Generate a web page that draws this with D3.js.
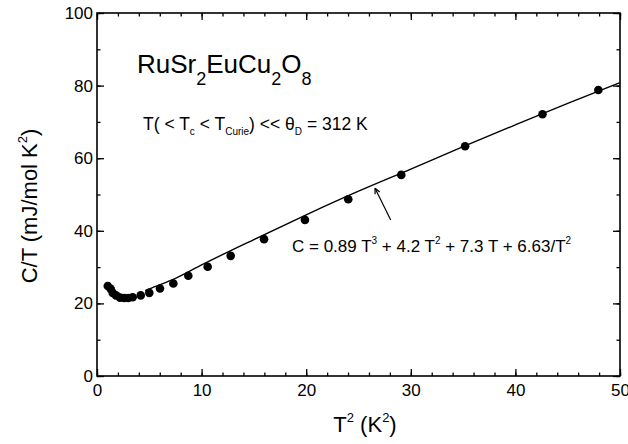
<!DOCTYPE html>
<html lang="en">
<meta charset="utf-8">
<style>
    html, body { margin: 0; padding: 0; background: #fff; }
    svg text { font-family: "Liberation Sans", Arial, sans-serif; fill: #000; }
</style>
<body>
<svg id="svg" width="628" height="444"></svg>
<script src="https://cdn.jsdelivr.net/npm/d3@7"></script>
<script>
    // measured points, x = T^2 (K^2), y = C/T (mJ/mol K^2)
    var t2 = [1.03, 1.31, 1.50, 1.82, 2.2, 2.61, 3.0, 3.41, 4.18, 5.0, 6.02, 7.3, 8.73, 10.58, 12.78, 15.97, 19.88, 24.02, 29.09, 35.19, 42.59, 47.93];
    var ct = [24.8, 24.0, 22.9, 22.2, 21.6, 21.5, 21.5, 21.7, 22.2, 22.9, 24.1, 25.5, 27.6, 30.1, 33.1, 37.7, 43.0, 48.7, 55.4, 63.3, 72.1, 78.8];

    // fitted curve
    var fitX = [4.6, 5, 7.5, 10, 15, 20, 25, 30, 35, 40, 45, 50];
    var fitY = [23.5, 24.0, 26.9, 30.6, 37.6, 44.4, 50.9, 57.0, 63.2, 69.2, 75.1, 80.8];

    var xTicks = [0, 10, 20, 30, 40, 50];
    var yTicks = [0, 20, 40, 60, 80, 100];

    var svg = d3.select("svg"),
        margin = {top: 13, right: 8, bottom: 68, left: 97},
        width = +svg.attr("width") - margin.left - margin.right,
        height = +svg.attr("height") - margin.top - margin.bottom,
        g = svg.append("g").attr("transform", "translate(" + margin.left + "," + margin.top + ")");

    var x = d3.scaleLinear().domain([0, 50]).range([0, width]);
    var y = d3.scaleLinear().domain([0, 100]).range([height, 0]);

    function styleAxis(a) {
        a.select(".domain").remove();
        a.selectAll(".tick line").attr("stroke", "#000").attr("stroke-width", 1.3);
        a.selectAll(".tick text").attr("font-size", 17).attr("font-family", "Liberation Sans, Arial, sans-serif");
    }

    // minor ticks
    var xMinor = d3.range(0, 51, 2), yMinor = d3.range(0, 101, 10);

    g.append("g").attr("transform", "translate(0," + height + ")")
        .call(d3.axisBottom(x).tickValues(xMinor).tickSize(-3.5).tickFormat(""))
        .call(styleAxis);
    g.append("g")
        .call(d3.axisTop(x).tickValues(xMinor).tickSize(-3.5).tickFormat(""))
        .call(styleAxis);
    g.append("g")
        .call(d3.axisLeft(y).tickValues(yMinor).tickSize(-3.5).tickFormat(""))
        .call(styleAxis);
    g.append("g").attr("transform", "translate(" + width + ",0)")
        .call(d3.axisRight(y).tickValues(yMinor).tickSize(-3.5).tickFormat(""))
        .call(styleAxis);

    // major ticks with labels
    g.append("g").attr("transform", "translate(0," + height + ")")
        .call(d3.axisBottom(x).tickValues(xTicks).tickSize(-7).tickPadding(8).tickFormat(d3.format("d")))
        .call(styleAxis);
    g.append("g")
        .call(d3.axisTop(x).tickValues(xTicks).tickSize(-7).tickFormat(""))
        .call(styleAxis);
    g.append("g")
        .call(d3.axisLeft(y).tickValues(yTicks).tickSize(-7).tickPadding(4).tickFormat(d3.format("d")))
        .call(styleAxis);
    g.append("g").attr("transform", "translate(" + width + ",0)")
        .call(d3.axisRight(y).tickValues(yTicks).tickSize(-7).tickFormat(""))
        .call(styleAxis);

    g.append("rect")
        .attr("width", width).attr("height", height)
        .attr("fill", "none").attr("stroke", "#000").attr("stroke-width", 1.6);

    // fit line
    var line = d3.line().x(d => x(d[0])).y(d => y(d[1])).curve(d3.curveMonotoneX);
    g.append("path")
        .datum(fitX.map((v, i) => [v, fitY[i]]))
        .attr("d", line)
        .attr("fill", "none").attr("stroke", "#000").attr("stroke-width", 1.4);

    // data points
    g.append("g").selectAll("circle")
        .data(t2.map((v, i) => [v, ct[i]]))
        .enter().append("circle")
        .attr("cx", d => x(d[0]))
        .attr("cy", d => y(d[1]))
        .attr("r", 4.3)
        .attr("fill", "#000");

    // arrow
    var tip = [26.58, 51.7], tail = [28.08, 43.0];
    var ang = Math.atan2(y(tip[1]) - y(tail[1]), x(tip[0]) - x(tail[0]));
    g.append("line")
        .attr("x1", x(tail[0])).attr("y1", y(tail[1]))
        .attr("x2", x(tip[0])).attr("y2", y(tip[1]))
        .attr("stroke", "#000").attr("stroke-width", 1.2);
    [0.45, -0.45].forEach(function(da) {
        g.append("line")
            .attr("x1", x(tip[0])).attr("y1", y(tip[1]))
            .attr("x2", x(tip[0]) - 6 * Math.cos(ang + da))
            .attr("y2", y(tip[1]) - 6 * Math.sin(ang + da))
            .attr("stroke", "#000").attr("stroke-width", 1.2);
    });

    // texts
    function rich(sel, parts) {
        parts.forEach(function(p) {
            var t = sel.append("tspan").text(p[0]);
            if (p[1]) t.attr("font-size", p[1]);
            if (p[2]) t.attr("dy", p[2]);
        });
    }

    var title = g.append("text").attr("x", 40).attr("y", 60).attr("font-size", 26);
    rich(title, [["RuSr"], ["2", 18, 12], ["EuCu", null, -12], ["2", 18, 12], ["O", null, -12], ["8", 18, 12]]);

    var cond = g.append("text").attr("x", 46).attr("y", 117).attr("font-size", 17.5);
    rich(cond, [["T( < T"], ["c", 10, 5], [" < T", null, -5], ["Curie", 10, 5], [") << θ", null, -5], ["D", 10, 5], [" = 312 K", null, -5]]);

    var eq = g.append("text").attr("x", 195).attr("y", 239).attr("font-size", 17);
    rich(eq, [["C = 0.89 T"], ["3", 10, -8], [" + 4.2 T", null, 8], ["2", 10, -8], [" + 7.3 T + 6.63/T", null, 8], ["2", 10, -8]]);

    // axis titles
    var xl = svg.append("text").attr("x", 365).attr("y", 432)
        .attr("text-anchor", "middle").attr("font-size", 22);
    rich(xl, [["T"], ["2", 13, -10], [" (K", null, 10], ["2", 13, -10], [")", null, 10]]);

    var yl = svg.append("text")
        .attr("transform", "translate(37,206) rotate(-90)")
        .attr("text-anchor", "middle").attr("font-size", 22);
    rich(yl, [["C/T (mJ/mol K"], ["2", 13, -10], [")", null, 10]]);
</script>
</body>
</html>
